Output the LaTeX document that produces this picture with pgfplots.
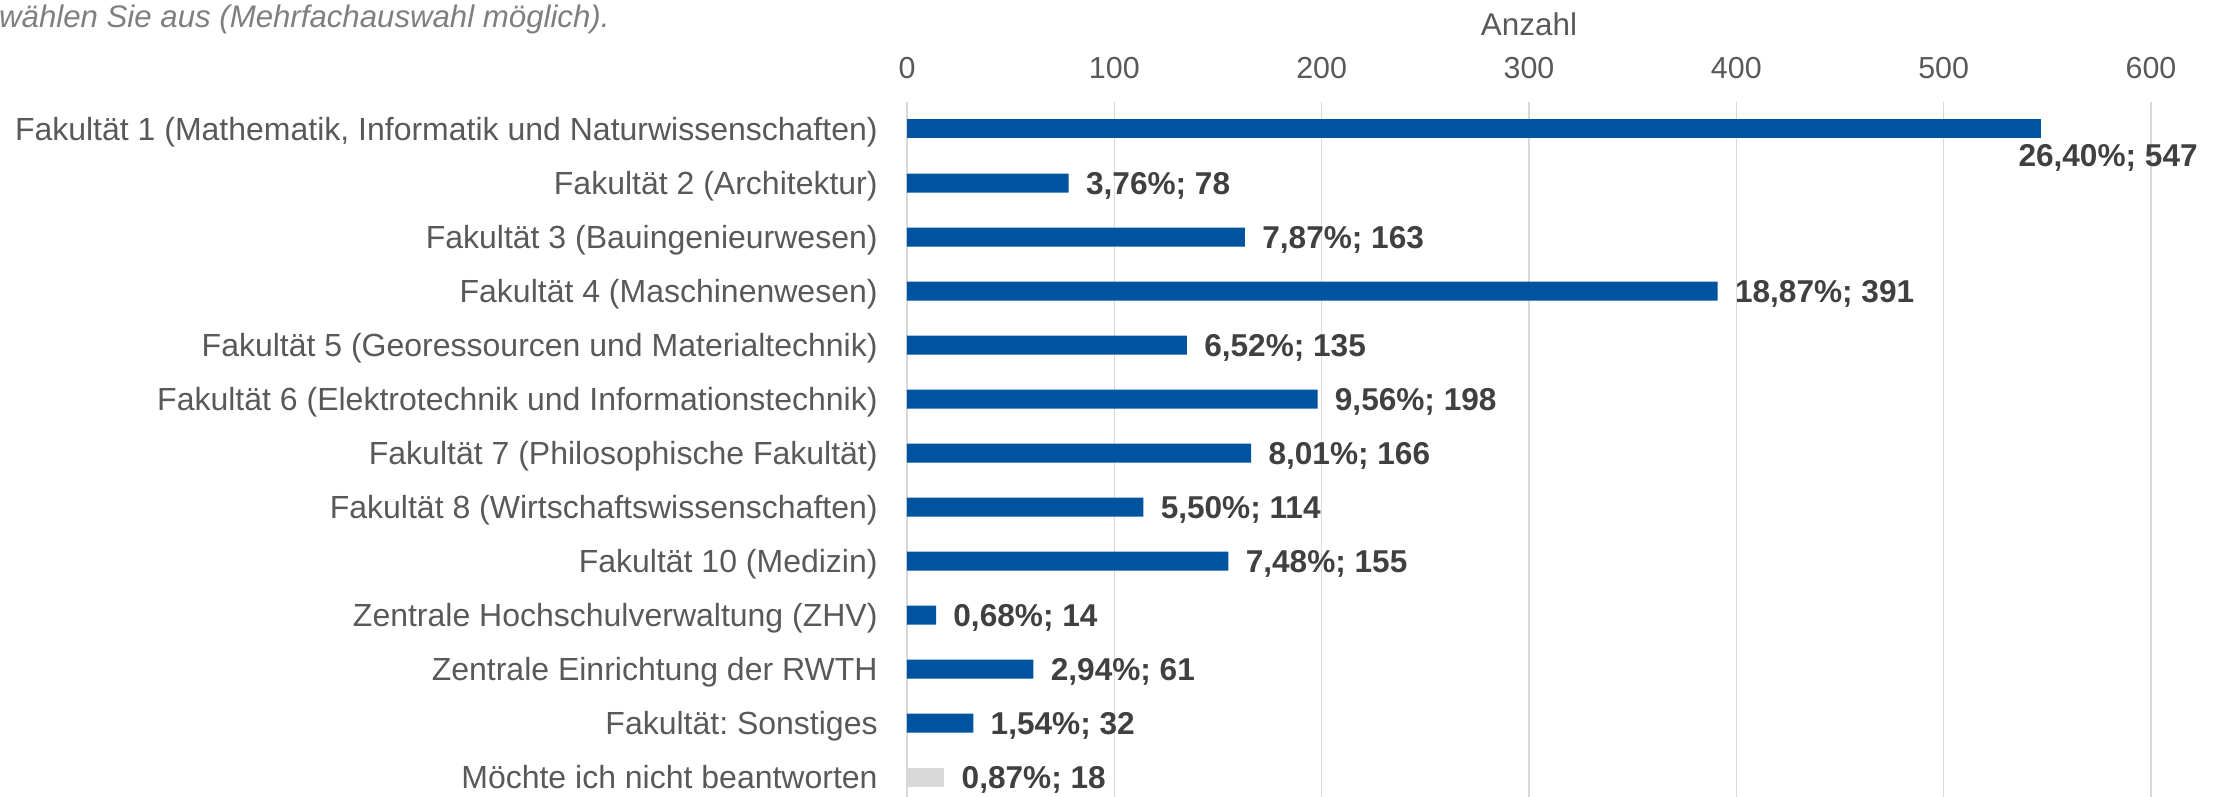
\documentclass[border=0pt]{standalone}
\usepackage{pgfplots}
\pgfplotsset{compat=1.18}
\usepackage{pgfplotstable}
\usepackage{fontspec}
\setmainfont{Liberation Sans}
\frenchspacing
\definecolor{rwthblue}{HTML}{00549F}
\definecolor{lgray}{HTML}{D9D9D9}
\definecolor{txtgray}{HTML}{595959}
\definecolor{lblgray}{HTML}{404040}
\definecolor{subgray}{HTML}{7F7F7F}

\pgfplotstableread{
idx count pct
0 547 26,40
1 78 3,76
2 163 7,87
3 391 18,87
4 135 6,52
5 198 9,56
6 166 8,01
7 114 5,50
8 155 7,48
9 14 0,68
10 61 2,94
11 32 1,54
12 18 0,87
}\datatable

\begin{document}
\frenchspacing
\begin{tikzpicture}
\path[use as bounding box] (0,0) rectangle (1112pt,398.5pt);
\node[anchor=base east, inner sep=0pt, font=\fontsize{15.6}{18}\selectfont\itshape, text=subgray]
  at (305pt,384.5pt) {wählen Sie aus (Mehrfachauswahl möglich).};
\begin{axis}[
  at={(453.5pt,0pt)}, anchor=south west,
  scale only axis, width=622pt, height=347.5pt,
  xmin=0, xmax=600, ymin=-0.5, ymax=12.37, y dir=reverse,
  clip=false,
  axis x line*=top, axis y line*=left,
  x axis line style={draw=none},
  y axis line style={draw=lgray, line width=1pt},
  major tick length=0pt,
  xtick={0,100,...,600},
  xmajorgrids, grid style={draw=lgray, line width=0.7pt},
  xticklabel style={font=\fontsize{15.2}{18}\selectfont, text=txtgray, inner sep=0pt, anchor=base, yshift=11.5pt,
    /pgf/number format/assume math mode=true},
  xlabel={Anzahl},
  xlabel style={at={(axis description cs:0.5,1)}, anchor=base, inner sep=0pt, yshift=33.4pt,
    font=\fontsize{15.7}{18}\selectfont, text=txtgray},
  ytick={0,...,12},
  yticklabels={{Fakultät 1 (Mathematik, Informatik und Naturwissenschaften)},
    {Fakultät 2 (Architektur)},
    {Fakultät 3 (Bauingenieurwesen)},
    {Fakultät 4 (Maschinenwesen)},
    {Fakultät 5 (Georessourcen und Materialtechnik)},
    {Fakultät 6 (Elektrotechnik und Informationstechnik)},
    {Fakultät 7 (Philosophische Fakultät)},
    {Fakultät 8 (Wirtschaftswissenschaften)},
    {Fakultät 10 (Medizin)},
    {Zentrale Hochschulverwaltung (ZHV)},
    {Zentrale Einrichtung der RWTH\ },
    {Fakultät: Sonstiges},
    {Möchte ich nicht beantworten}},
  yticklabel style={font=\fontsize{16}{19}\selectfont, text=txtgray, inner sep=0pt, anchor=base east,
    xshift=-14.5pt, yshift=-5.8pt},
  xbar, bar width=9.5pt, bar shift=0pt,
  point meta=explicit symbolic,
  nodes near coords={\pgfplotspointmeta\%; \pgfmathprintnumber[assume math mode=true]{\pgfkeysvalueof{/data point/x}}},
  every node near coord/.append style={font=\fontsize{15.8}{18}\selectfont\bfseries, text=lblgray,
    inner sep=0pt, anchor=base west, xshift=8.5pt, yshift=-5.6pt},
]
\addplot[fill=rwthblue, draw=none,
  skip coords between index={0}{1}, skip coords between index={12}{13}]
  table[x=count, y=idx, meta=pct] {\datatable};
\addplot[fill=rwthblue, draw=none,
  skip coords between index={1}{13},
  every node near coord/.append style={xshift=-20pt, yshift=-13pt}]
  table[x=count, y=idx, meta=pct] {\datatable};
\addplot[fill=lgray, draw=none,
  skip coords between index={0}{12}]
  table[x=count, y=idx, meta=pct] {\datatable};
\end{axis}
\end{tikzpicture}
\end{document}
